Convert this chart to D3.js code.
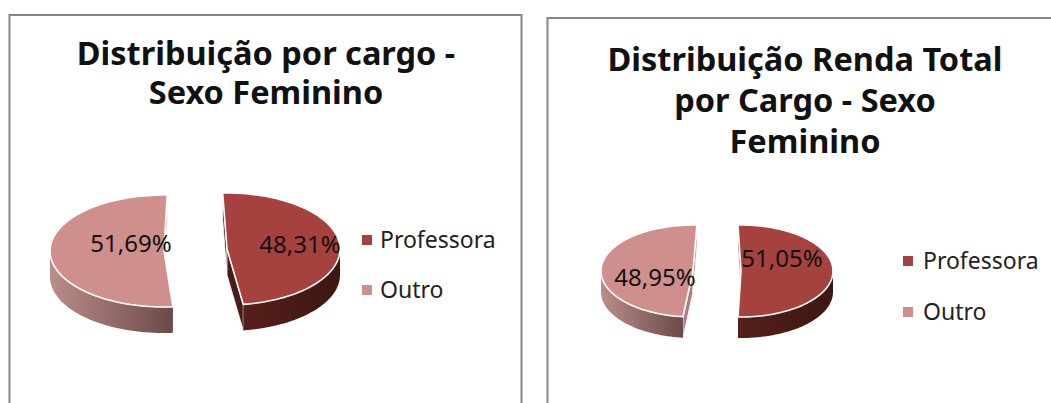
<!DOCTYPE html>
<html>
<head>
<meta charset="utf-8">
<script src="https://cdnjs.cloudflare.com/ajax/libs/d3/7.8.5/d3.min.js"></script>
<style>
	html, body { margin: 0; padding: 0; background: #fff; overflow: hidden; }
	svg { display: block; }
	text { font-family: "Noto Sans", sans-serif; fill: #111; }
</style>
</head>
<body>
<svg id="chart" width="1051" height="403"></svg>
<script>
const categories = ['Professora', 'Outro'];
const cargoValues = [48.31, 51.69];
const rendaValues = [51.05, 48.95];
const cargoTitle = ['Distribuição por cargo -', 'Sexo Feminino'];
const rendaTitle = ['Distribuição Renda Total', 'por Cargo - Sexo', 'Feminino'];

const colors = ['#a5423f', '#cf8f8d'];
const wallColors = ['#4a1c18', '#a97f7c'];
const rimStops = [['#561f1b', '#3d1612'], ['#bb8d8a', '#6b4a48']];

const toRad = Math.PI / 180;
const svg = d3.select('#chart');
const defs = svg.append('defs');

rimStops.forEach(function(stops, i) {
	let grad = defs.append('linearGradient').attr('id', 'rim' + i);
	grad.append('stop').attr('offset', '0%').attr('stop-color', stops[0]);
	grad.append('stop').attr('offset', '100%').attr('stop-color', stops[1]);
});

const panels = [
	{
		frame: { x: 9.5, y: 15, w: 512, h: 420 },
		title: cargoTitle, titleX: 266, titleY: [65, 104],
		values: cargoValues, startAngle: -2.2, depth: 26, textSize: 24,
		slices: [
			{ cx: 227, cy: 249, rx: 113, ry: 56, nudge: 0, labelX: 300, labelY: 253 },
			{ cx: 164, cy: 251, rx: 114, ry: 56, nudge: 3.8, labelX: 131, labelY: 252 }
		],
		legendX: 362, legendTextX: 380, legendY: [240, 290]
	},
	{
		frame: { x: 547.5, y: 18, w: 520, h: 420 },
		title: rendaTitle, titleX: 805, titleY: [71, 112, 153],
		values: rendaValues, startAngle: -1.9, depth: 21, textSize: 24,
		slices: [
			{ cx: 741, cy: 271, rx: 92, ry: 46, nudge: 0, labelX: 782, labelY: 267 },
			{ cx: 693, cy: 271, rx: 92, ry: 46, nudge: 4.36, labelX: 655, labelY: 286 }
		],
		legendX: 903, legendTextX: 923, legendY: [261, 312]
	}
];

panels.forEach(drawPanel);

function drawPanel(panel) {
	let g = svg.append('g');

	g.append('rect')
		.attr('x', panel.frame.x).attr('y', panel.frame.y)
		.attr('width', panel.frame.w).attr('height', panel.frame.h)
		.style('fill', '#fff')
		.style('stroke', '#868686')
		.style('stroke-width', 2);

	g.selectAll('.title')
		.data(panel.title)
		.enter().append('text')
		.attr('class', 'title')
		.attr('x', panel.titleX)
		.attr('y', function(d, i) { return panel.titleY[i]; })
		.style('text-anchor', 'middle')
		.style('font-size', '32.5px')
		.style('font-weight', 700)
		.text(function(d) { return d; });

	let arcs = d3.pie().sort(null)
		.startAngle(panel.startAngle * toRad)
		.endAngle((panel.startAngle + 360) * toRad)(panel.values);

	// Outro goes first, Professora's labels sit on top of it in the original too
	[1, 0].forEach(function(i) {
		drawSlice(g, arcs[i], panel.slices[i], panel.depth, i);
	});

	panel.values.forEach(function(v, i) {
		let s = panel.slices[i];
		g.append('text')
			.attr('x', s.labelX).attr('y', s.labelY)
			.style('text-anchor', 'middle')
			.style('font-size', panel.textSize + 'px')
			.text(v.toFixed(2).replace('.', ',') + '%');
	});

	categories.forEach(function(name, i) {
		g.append('rect')
			.attr('x', panel.legendX).attr('y', panel.legendY[i] - 5)
			.attr('width', 10).attr('height', 10)
			.style('fill', colors[i]);
		g.append('text')
			.attr('x', panel.legendTextX).attr('y', panel.legendY[i] + 8)
			.style('font-size', '23px')
			.style('fill', '#222')
			.text(name);
	});
}

function drawSlice(g, arc, s, depth, i) {
	let a0 = arc.startAngle + s.nudge * toRad;
	let a1 = arc.endAngle + s.nudge * toRad;
	let point = function(a) { return [s.cx + s.rx * Math.sin(a), s.cy - s.ry * Math.cos(a)]; };
	let drop = function(p) { return [p[0], p[1] + depth]; };
	let line = d3.line();
	let sample = function(from, to) {
		let n = Math.ceil(Math.abs(to - from) / (2 * toRad));
		return d3.range(n + 1).map(function(k) { return point(from + (to - from) * k / n); });
	};
	let centre = [s.cx, s.cy];

	// cut faces of the wedge, the top face hides whatever should not show
	[a0, a1].forEach(function(a) {
		let p = point(a);
		g.append('path')
			.attr('d', line([centre, p, drop(p), drop(centre)]) + 'Z')
			.style('fill', wallColors[i])
			.style('stroke', '#fff')
			.style('stroke-width', 0.8);
	});

	// outer rim, only the part facing the viewer
	let from = Math.max(a0, 90 * toRad);
	let to = Math.min(a1, 270 * toRad);
	let edge = sample(from, to);
	g.append('path')
		.attr('d', line(edge.concat(edge.map(drop).reverse())) + 'Z')
		.style('fill', 'url(#rim' + i + ')');

	g.append('path')
		.attr('d', line([centre].concat(sample(a0, a1))) + 'Z')
		.style('fill', colors[i])
		.style('stroke', '#fff')
		.style('stroke-width', 1.6)
		.style('stroke-linejoin', 'round');
}
</script>
</body>
</html>
